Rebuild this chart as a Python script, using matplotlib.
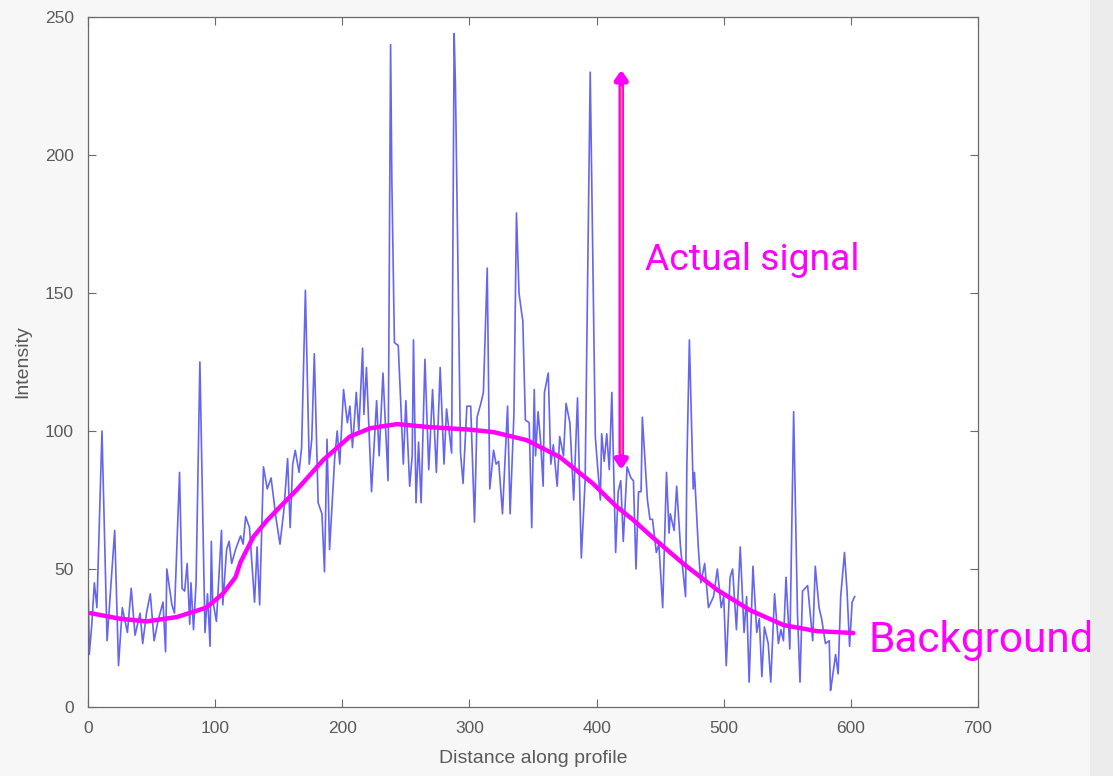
import matplotlib
matplotlib.use("Agg")
import matplotlib.pyplot as plt
from matplotlib import font_manager

# ---- data ----
dist = [0, 1, 3, 5, 7, 11, 15, 21, 24, 27, 31, 34, 37, 41, 43, 46, 49, 52, 55, 59,
        61, 62, 66, 68, 72, 74, 76, 78, 80, 81, 83, 85, 88, 92, 94, 96, 97, 98, 101, 105,
        106, 109, 111, 113, 116, 120, 122, 124, 127, 131, 133, 135, 138, 141, 144, 148, 151, 154, 157, 159,
        161, 163, 166, 168, 171, 174, 176, 178, 181, 184, 186, 188, 190, 194, 196, 198, 201, 204, 206, 208,
        211, 213, 216, 217, 219, 223, 227, 229, 232, 236, 238, 239, 241, 244, 246, 248, 250, 253, 255, 256,
        258, 260, 262, 265, 268, 271, 274, 277, 280, 282, 286, 288, 289, 293, 295, 298, 301, 304, 306, 309,
        311, 314, 316, 319, 321, 323, 326, 330, 332, 335, 337, 339, 341, 342, 344, 347, 349, 351, 352, 354,
        356, 358, 359, 362, 364, 366, 369, 371, 374, 376, 379, 382, 385, 388, 391, 395, 399, 401, 403, 404,
        406, 408, 410, 412, 415, 417, 419, 421, 424, 427, 429, 431, 433, 435, 436, 440, 442, 444, 447, 449,
        452, 455, 457, 458, 461, 463, 466, 470, 471, 473, 476, 477, 480, 482, 485, 488, 492, 495, 498, 500,
        502, 505, 507, 510, 513, 516, 518, 520, 523, 526, 528, 530, 532, 535, 537, 540, 543, 545, 547, 549,
        552, 555, 558, 560, 562, 566, 568, 570, 572, 575, 577, 580, 583, 584, 585, 588, 590, 592, 595, 597,
        599, 601, 603]
intensity = [46, 19, 30, 45, 36, 100, 24, 64, 15, 36, 27, 43, 26, 34, 23, 34, 41, 24, 31, 38,
             20, 50, 37, 34, 85, 43, 42, 52, 30, 45, 28, 45, 125, 27, 41, 22, 60, 39, 31, 64,
             37, 57, 60, 52, 57, 62, 59, 69, 65, 38, 58, 37, 87, 79, 83, 68, 59, 71, 90, 65,
             88, 93, 85, 94, 151, 88, 97, 128, 74, 70, 49, 97, 57, 90, 100, 88, 115, 103, 109, 94,
             114, 100, 130, 106, 123, 78, 111, 91, 121, 82, 240, 190, 132, 131, 110, 88, 111, 80, 91, 133,
             74, 96, 74, 126, 86, 115, 85, 123, 88, 108, 92, 244, 225, 92, 81, 109, 109, 67, 105, 110,
             114, 159, 79, 93, 88, 89, 70, 109, 70, 106, 179, 150, 143, 140, 104, 103, 65, 115, 91, 107,
             96, 80, 114, 121, 88, 95, 80, 98, 91, 110, 103, 75, 112, 54, 82, 230, 98, 86, 75, 99,
             89, 99, 86, 114, 56, 78, 82, 60, 87, 83, 82, 50, 78, 78, 105, 75, 68, 68, 56, 59,
             36, 85, 63, 70, 64, 80, 58, 40, 87, 133, 79, 85, 58, 45, 52, 36, 40, 50, 36, 40,
             15, 47, 50, 28, 58, 27, 40, 9, 51, 27, 32, 11, 29, 23, 9, 41, 23, 28, 24, 47,
             21, 107, 34, 9, 42, 44, 34, 24, 51, 36, 32, 23, 24, 6, 9, 19, 12, 40, 56, 42,
             22, 38, 40]

bg_dist = [2, 25, 46, 70, 93, 106, 116, 120, 130, 141, 151, 164, 185, 206, 222, 243, 269, 300,
           319, 345, 371, 397, 416, 429, 442, 468, 495, 521, 547, 573, 602]
bg_level = [34, 32, 31, 32.6, 36, 41, 47, 52.5, 61.6, 67.7, 72.5, 78.6, 89.5, 98, 101, 102.5, 101.4, 100.5,
            99.6, 96.7, 90.6, 81, 72.5, 67.7, 62.3, 52, 42.4, 35, 29.7, 27.5, 26.8]

arrow_x = 419.4
arrow_top = 230.8
arrow_bottom = 86

xticks = [0, 100, 200, 300, 400, 500, 600, 700]
yticks = [0, 50, 100, 150, 200, 250]

# ---- fonts ----
avail = {f.name for f in font_manager.fontManager.ttflist}
tick_font = "Liberation Sans Narrow" if "Liberation Sans Narrow" in avail else "Liberation Sans"
anno_font = "Roboto" if "Roboto" in avail else "DejaVu Sans"

MAG = "#ff00ff"
fig = plt.figure(figsize=(11.13, 7.76), dpi=100, facecolor="#f7f7f7")
# right grey band
fig.patches.append(plt.Rectangle((1090 / 1113, 0), 23 / 1113, 1, transform=fig.transFigure,
                                 facecolor="#ececec", edgecolor="none", zorder=0))
ax = fig.add_axes([88 / 1113, 69 / 776, 890 / 1113, 690 / 776])
ax.set_facecolor("#ffffff")

ax.plot(dist, intensity, color="#4a4aee", lw=1.2, alpha=0.85, zorder=2)
ax.plot(bg_dist, bg_level, color=MAG, lw=3.2, solid_capstyle="round", zorder=3)

ax.annotate("", xy=(arrow_x, arrow_top), xytext=(arrow_x, arrow_bottom),
            arrowprops=dict(arrowstyle="<|-|>,head_length=0.5,head_width=0.35",
                            fc=MAG, ec=MAG, lw=4, shrinkA=0, shrinkB=0), zorder=4)
ax.plot([arrow_x, arrow_x], [arrow_bottom + 6, arrow_top - 6], color="#ff9a3c", lw=1, zorder=5)

ax.text(438, 162, "Actual signal", color=MAG, fontsize=26.8, family=anno_font, va="center", ha="left")
ax.text(613.5, 24, "Background", color=MAG, fontsize=30.5, family=anno_font, va="center", ha="left",
        clip_on=False)

ax.set_xlim(0, 700)
ax.set_ylim(0, 250)
ax.set_xticks(xticks)
ax.set_yticks(yticks)
ax.tick_params(direction="in", length=6, width=0.8, colors="#6a6a6a", labelsize=12.5,
               top=True, right=True, pad=10)
for lab in ax.get_xticklabels() + ax.get_yticklabels():
    lab.set_family(tick_font)
    lab.set_color("#5a5a5a")
for s in ax.spines.values():
    s.set_color("#6a6a6a")
    s.set_linewidth(0.9)
ax.set_xlabel("Distance along profile", family=tick_font, fontsize=14, color="#5a5a5a", labelpad=10)
ax.set_ylabel("Intensity", family=tick_font, fontsize=14, color="#5a5a5a", labelpad=10)

fig.savefig("out.png", dpi=100, facecolor=fig.get_facecolor())
